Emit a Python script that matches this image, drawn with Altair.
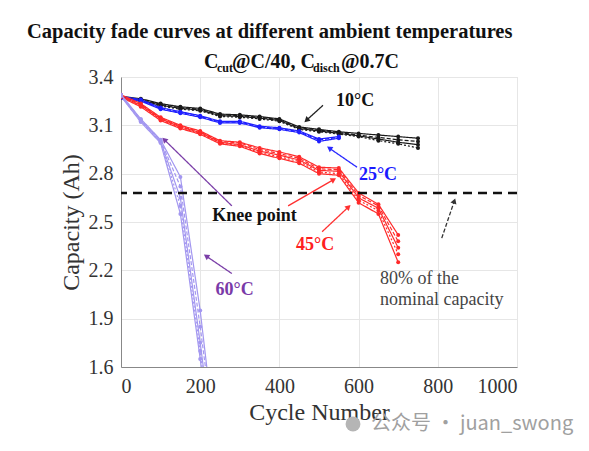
import math
import altair as alt
import pandas as pd

# ---------------- data ----------------
cyc10 = [0, 50, 100, 150, 200, 250, 300, 350, 400, 450, 500, 550, 600, 650, 700, 750]
cap10 = [
    [3.28, 3.265, 3.235, 3.215, 3.205, 3.17, 3.165, 3.155, 3.14, 3.09, 3.075, 3.06, 3.05, 3.04, 3.03, 3.02],
    [3.275, 3.26, 3.23, 3.21, 3.20, 3.165, 3.16, 3.15, 3.135, 3.085, 3.07, 3.055, 3.04, 3.025, 3.01, 3.0],
    [3.28, 3.255, 3.225, 3.205, 3.195, 3.16, 3.155, 3.145, 3.13, 3.08, 3.065, 3.05, 3.035, 3.015, 2.995, 2.98],
    [3.27, 3.25, 3.22, 3.20, 3.19, 3.155, 3.15, 3.14, 3.125, 3.075, 3.06, 3.045, 3.03, 3.005, 2.985, 2.96],
]
cyc25 = [0, 50, 100, 150, 200, 250, 300, 350, 400, 450, 500, 550]
cap25 = [
    [3.28, 3.26, 3.21, 3.185, 3.16, 3.125, 3.125, 3.095, 3.085, 3.065, 3.015, 3.03],
    [3.275, 3.255, 3.205, 3.18, 3.155, 3.12, 3.12, 3.09, 3.08, 3.06, 3.01, 3.025],
    [3.27, 3.25, 3.20, 3.175, 3.15, 3.115, 3.115, 3.085, 3.075, 3.055, 3.0, 3.02],
]
cyc45 = [0, 50, 100, 150, 200, 250, 300, 350, 400, 450, 500, 550, 600, 650, 700]
cap45 = [
    [3.29, 3.235, 3.15, 3.10, 3.065, 3.005, 2.995, 2.96, 2.935, 2.905, 2.84, 2.835, 2.68, 2.61, 2.42],
    [3.285, 3.23, 3.145, 3.095, 3.06, 3.0, 2.99, 2.95, 2.925, 2.895, 2.83, 2.825, 2.665, 2.60, 2.38],
    [3.28, 3.225, 3.14, 3.09, 3.055, 2.995, 2.98, 2.94, 2.915, 2.885, 2.82, 2.815, 2.65, 2.585, 2.34],
    [3.28, 3.22, 3.135, 3.085, 3.05, 2.99, 2.975, 2.93, 2.905, 2.875, 2.81, 2.80, 2.635, 2.57, 2.30],
    [3.275, 3.215, 3.13, 3.08, 3.045, 2.985, 2.97, 2.925, 2.895, 2.865, 2.80, 2.79, 2.62, 2.55, 2.25],
]
cyc60 = [0, 50, 100, 150, 200, 250]
cap60 = [
    [3.29, 3.14, 3.01, 2.78, 1.95, 0.9],
    [3.29, 3.135, 3.005, 2.72, 1.85, 0.9],
    [3.285, 3.13, 3.0, 2.65, 1.75, 0.8],
    [3.28, 3.125, 2.995, 2.60, 1.70, 0.7],
    [3.28, 3.12, 2.99, 2.55, 1.65, 0.7],
]
temps = ["10°C", "25°C", "45°C", "60°C"]
temp_colors = ["#1a1a1a", "#1f1fff", "#ff2a2a", "#a397f0"]
nominal_80 = 2.68

ann_text = ["10°C", "25°C", "Knee point", "45°C", "60°C"]
ann_x = [591, 649, 337, 490, 287]
ann_y = [3.25, 2.79, 2.54, 2.355, 2.075]
ann_color = ["#111111", "#1a1aff", "#111111", "#ff2020", "#7a3aa8"]

note_text = ["80% of the", "nominal capacity"]
note_x = [654, 654]
note_y = [2.145, 2.015]

arrow_x1 = [510, 596, 280, 422, 508, 280, 810]
arrow_y1 = [3.224, 2.84, 2.6, 2.6, 2.44, 2.18, 2.40]
arrow_x2 = [470, 528, 111, 535, 573, 217, 841]
arrow_y2 = [3.135, 2.955, 3.007, 2.76, 2.59, 2.285, 2.625]
arrow_color = ["#222222", "#2a2aff", "#7b3fa8", "#ff3030", "#ff3030", "#7b3fa8", "#333333"]
arrow_dash = ["solid", "solid", "solid", "solid", "solid", "solid", "dash"]

# ---------------- frames ----------------
W, H = 396, 290
XMIN, XMAX, YMIN, YMAX = 0, 1000, 1.6, 3.4
styles = ["s0", "s1", "s2", "s3", "s4"]
rows = []
for t, cyc, caps in [("10°C", cyc10, cap10), ("25°C", cyc25, cap25),
                     ("45°C", cyc45, cap45), ("60°C", cyc60, cap60)]:
    for i, line in enumerate(caps):
        for c, v in zip(cyc, line):
            rows.append({"temp": t, "cell": f"{t}-{i}", "style": styles[i % 5],
                         "cycle": c, "cap": v})
df = pd.DataFrame(rows)

ann_df = pd.DataFrame({"t": ann_text, "x": ann_x, "y": ann_y, "c": ann_color})
note_df = pd.DataFrame({"t": note_text, "x": note_x, "y": note_y})

pxx = W / (XMAX - XMIN)
pxy = H / (YMAX - YMIN)
angs = []
for x1, y1, x2, y2 in zip(arrow_x1, arrow_y1, arrow_x2, arrow_y2):
    dx = (x2 - x1) * pxx
    dy = -(y2 - y1) * pxy
    angs.append(math.degrees(math.atan2(dx, -dy)) % 360)
arr_df = pd.DataFrame({"x1": arrow_x1, "y1": arrow_y1, "x2": arrow_x2, "y2": arrow_y2,
                       "c": arrow_color, "d": arrow_dash, "a": angs})

xs = alt.Scale(domain=[XMIN, XMAX], nice=False)
ys = alt.Scale(domain=[YMIN, YMAX], nice=False)
SERIF = "Liberation Serif"

xaxis = alt.Axis(values=[0, 200, 400, 600, 800, 1000], format="d", labelFont=SERIF, labelFontSize=20,
                 labelColor="#333333", labelPadding=9, ticks=False, domainColor="#888888",
                 gridColor="#e6e6e6", title="Cycle Number", titleFont=SERIF, titleFontSize=24,
                 titleFontWeight="normal", titleColor="#333333", titlePadding=4)
yaxis = alt.Axis(values=[1.6, 1.9, 2.2, 2.5, 2.8, 3.1, 3.4], format=".1f", labelFont=SERIF,
                 labelFontSize=20, labelColor="#333333", labelPadding=8, ticks=False,
                 domainColor="#888888", gridColor="#e6e6e6", title="Capacity (Ah)",
                 titleFont=SERIF, titleFontSize=24, titleFontWeight="normal",
                 titleColor="#333333", titlePadding=5)

lines = alt.Chart(df).mark_line(
    strokeWidth=1.2, clip=True,
    point=alt.OverlayMarkDef(filled=True, size=16, clip=True)
).encode(
    x=alt.X("cycle:Q", scale=xs, axis=xaxis),
    y=alt.Y("cap:Q", scale=ys, axis=yaxis),
    color=alt.Color("temp:N", scale=alt.Scale(domain=temps, range=temp_colors), legend=None),
    strokeDash=alt.StrokeDash("style:N", scale=alt.Scale(domain=styles,
                              range=[[1, 0], [4, 2], [1, 0], [2, 2], [1, 0]]), legend=None),
    detail="cell:N",
)

hline = alt.Chart(pd.DataFrame({"y": [nominal_80]})).mark_rule(
    color="#111111", strokeWidth=2.5, strokeDash=[9, 6]
).encode(y=alt.Y("y:Q", scale=ys))

arr_lines = alt.Chart(arr_df).mark_rule(strokeWidth=1.3).encode(
    x=alt.X("x1:Q", scale=xs), y=alt.Y("y1:Q", scale=ys),
    x2="x2:Q", y2="y2:Q",
    color=alt.Color("c:N", scale=None),
    strokeDash=alt.StrokeDash("d:N", scale=alt.Scale(domain=["solid", "dash"],
                              range=[[1, 0], [3, 2]]), legend=None),
)
arr_heads = alt.Chart(arr_df).mark_point(shape="triangle", filled=True, size=40, opacity=1).encode(
    x=alt.X("x2:Q", scale=xs), y=alt.Y("y2:Q", scale=ys),
    color=alt.Color("c:N", scale=None),
    angle=alt.Angle("a:Q", scale=None),
)

labels = alt.Chart(ann_df).mark_text(font=SERIF, fontSize=18, fontWeight="bold").encode(
    x=alt.X("x:Q", scale=xs), y=alt.Y("y:Q", scale=ys), text="t:N",
    color=alt.Color("c:N", scale=None),
)
notes = alt.Chart(note_df).mark_text(font=SERIF, fontSize=18, align="left", color="#444444").encode(
    x=alt.X("x:Q", scale=xs), y=alt.Y("y:Q", scale=ys), text="t:N",
)

one = pd.DataFrame({"k": [0]})


def txt(s, x, y, size, weight="bold", color="#111111", font=SERIF, align="left", baseline="alphabetic"):
    return alt.Chart(one).mark_text(text=s, font=font, fontSize=size, fontWeight=weight,
                                    color=color, align=align, baseline=baseline).encode(
        x=alt.value(x), y=alt.value(y))


title = txt("Capacity fade curves at different ambient temperatures", -94, -39, 20.5)
sub = [
    txt("C", 83, -9, 20),
    txt("cut", 96, -5, 12),
    txt("@C/40, C", 111, -9, 20),
    txt("disch", 192, -5, 12),
    txt("@0.7C", 220, -9, 20),
]
icon = alt.Chart(one).mark_point(shape="circle", filled=True, size=220, color="#b5b5b5", opacity=1).encode(
    x=alt.value(232), y=alt.value(347))
wm = txt("公众号 · juan_swong", 250, 347, 20, weight="normal", color="#a0a0a0",
         font="Noto Sans CJK SC", baseline="middle")

chart = alt.layer(lines, hline, arr_lines, arr_heads, labels, notes, title, *sub, icon, wm).properties(
    width=W, height=H,
    autosize=alt.AutoSizeParams(type="none"),
    padding={"left": 113, "top": 69, "right": 64, "bottom": 76},
).configure_view(stroke="#999999", strokeWidth=1).configure(background="white")

chart.save("out.html", embed_options={"renderer": "svg", "actions": False})
